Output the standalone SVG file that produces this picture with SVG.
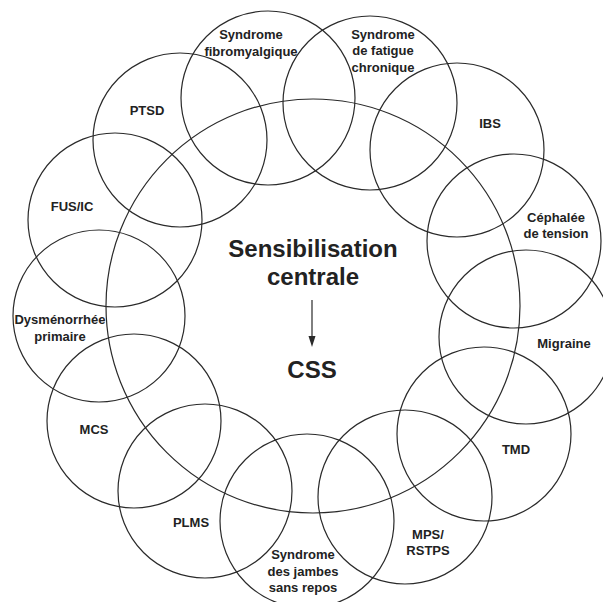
<svg xmlns="http://www.w3.org/2000/svg" width="603" height="602" viewBox="0 0 603 602">
<style>
.c{fill:none;stroke:#2a2a2a;stroke-width:1.2}
.t{font-family:"Liberation Sans",Arial,sans-serif;font-weight:bold;font-size:13px;fill:#222;text-anchor:middle}
.big{font-family:"Liberation Sans",Arial,sans-serif;font-weight:bold;font-size:24px;fill:#222;text-anchor:middle}
.a{stroke:#2a2a2a;stroke-width:1.2;fill:none}
</style>
<defs>
<marker id="ah" markerWidth="7" markerHeight="10" refX="3.5" refY="10" orient="auto" markerUnits="userSpaceOnUse" viewBox="0 0 7 10">
<path d="M0,0 L7,0 L3.5,10 Z" fill="#2a2a2a" transform="rotate(-90 3.5 5)"/>
</marker>
</defs>
<rect width="603" height="602" fill="#fff"/>
<g id="central">
<circle class="c" cx="313" cy="306" r="207"/>
<text class="big" x="313" y="257">Sensibilisation</text>
<text class="big" x="313" y="285">centrale</text>
</g>
<g id="css">
<text class="big" x="312" y="378">CSS</text>
</g>
<g id="fibro">
<circle class="c" cx="268" cy="98" r="87"/>
<text class="t" x="251" y="39">Syndrome</text>
<text class="t" x="251" y="56">fibromyalgique</text>
</g>
<g id="fatigue">
<circle class="c" cx="370" cy="103" r="87"/>
<text class="t" x="383" y="39">Syndrome</text>
<text class="t" x="383" y="55">de fatigue</text>
<text class="t" x="383" y="72">chronique</text>
</g>
<g id="ibs">
<circle class="c" cx="457" cy="150" r="87"/>
<text class="t" x="490" y="128">IBS</text>
</g>
<g id="cephalee">
<circle class="c" cx="514" cy="241" r="87"/>
<text class="t" x="556" y="222">Céphalée</text>
<text class="t" x="556" y="238">de tension</text>
</g>
<g id="migraine">
<circle class="c" cx="526" cy="337" r="87"/>
<text class="t" x="564" y="348">Migraine</text>
</g>
<g id="tmd">
<circle class="c" cx="484" cy="434" r="87"/>
<text class="t" x="516" y="454">TMD</text>
</g>
<g id="mps">
<circle class="c" cx="405" cy="497" r="87"/>
<text class="t" x="428" y="539">MPS/</text>
<text class="t" x="428" y="555">RSTPS</text>
</g>
<g id="jambes">
<circle class="c" cx="307" cy="521" r="87"/>
<text class="t" x="303" y="559">Syndrome</text>
<text class="t" x="303" y="576">des jambes</text>
<text class="t" x="303" y="592">sans repos</text>
</g>
<g id="plms">
<circle class="c" cx="205" cy="491" r="87"/>
<text class="t" x="191" y="527">PLMS</text>
</g>
<g id="mcs">
<circle class="c" cx="134" cy="421" r="87"/>
<text class="t" x="94" y="434">MCS</text>
</g>
<g id="dysmenorrhee">
<circle class="c" cx="99" cy="316" r="86"/>
<text class="t" x="60" y="324">Dysménorrhée</text>
<text class="t" x="60" y="341">primaire</text>
</g>
<g id="fusic">
<circle class="c" cx="115" cy="220" r="87"/>
<text class="t" x="72" y="211">FUS/IC</text>
</g>
<g id="ptsd">
<circle class="c" cx="180" cy="140" r="87"/>
<text class="t" x="147" y="115">PTSD</text>
</g>
<g id="connectors">
<line class="a" x1="312" y1="300" x2="312" y2="337"/>
<path d="M308.5,336 L315.5,336 L312,347 Z" fill="#2a2a2a"/>
</g>
</svg>
